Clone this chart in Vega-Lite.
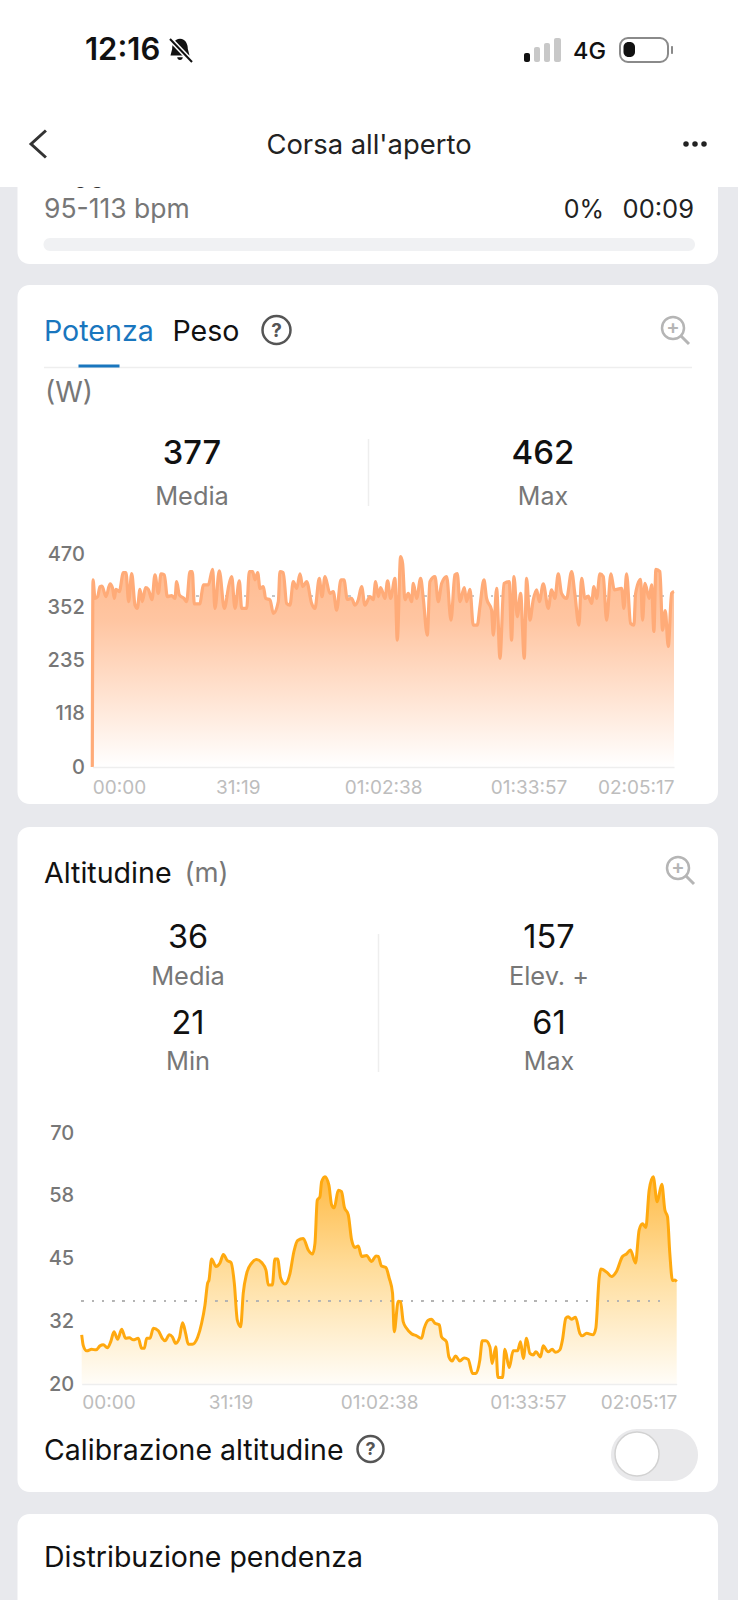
{
"$schema":"https://vega.github.io/schema/vega-lite/v6.json",
"width":738,"height":1600,"padding":0,"autosize":{"type":"none"},
"background":"#E8E9ED",
"config":{"view":{"stroke":null},"axis":{"disable":true},"text":{"font":"Inter","align":"left","baseline":"middle","color":"#111111"},"font":"Inter"},
"datasets":{
"power":[{"t":0,"w":0},{"t":9,"w":413},{"t":35,"w":372},{"t":69,"w":376},{"t":99,"w":398},{"t":125,"w":399},{"t":177,"w":376},{"t":229,"w":404},{"t":263,"w":394},{"t":285,"w":372},{"t":306,"w":392},{"t":349,"w":387},{"t":401,"w":429},{"t":435,"w":429},{"t":470,"w":365},{"t":509,"w":427},{"t":552,"w":357},{"t":582,"w":350},{"t":616,"w":392},{"t":646,"w":365},{"t":689,"w":396},{"t":724,"w":392},{"t":771,"w":369},{"t":810,"w":424},{"t":853,"w":383},{"t":888,"w":426},{"t":931,"w":424},{"t":969,"w":376},{"t":1025,"w":378},{"t":1068,"w":372},{"t":1090,"w":409},{"t":1124,"w":380},{"t":1185,"w":372},{"t":1219,"w":365},{"t":1262,"w":431},{"t":1292,"w":431},{"t":1318,"w":360},{"t":1392,"w":360},{"t":1413,"w":382},{"t":1435,"w":402},{"t":1499,"w":402},{"t":1555,"w":436},{"t":1585,"w":350},{"t":1641,"w":433},{"t":1706,"w":350},{"t":1766,"w":402},{"t":1801,"w":420},{"t":1844,"w":350},{"t":1900,"w":411},{"t":1930,"w":350},{"t":1995,"w":350},{"t":2029,"w":431},{"t":2072,"w":431},{"t":2102,"w":413},{"t":2137,"w":429},{"t":2167,"w":394},{"t":2210,"w":398},{"t":2240,"w":372},{"t":2296,"w":369},{"t":2339,"w":339},{"t":2404,"w":365},{"t":2425,"w":431},{"t":2468,"w":429},{"t":2511,"w":361},{"t":2554,"w":357},{"t":2597,"w":409},{"t":2641,"w":394},{"t":2684,"w":426},{"t":2718,"w":398},{"t":2770,"w":409},{"t":2834,"w":361},{"t":2877,"w":350},{"t":2933,"w":416},{"t":2968,"w":376},{"t":3007,"w":420},{"t":3071,"w":383},{"t":3114,"w":387},{"t":3157,"w":346},{"t":3213,"w":413},{"t":3252,"w":413},{"t":3295,"w":370},{"t":3351,"w":372},{"t":3394,"w":357},{"t":3437,"w":369},{"t":3480,"w":398},{"t":3523,"w":357},{"t":3588,"w":376},{"t":3631,"w":369},{"t":3661,"w":409},{"t":3696,"w":376},{"t":3726,"w":396},{"t":3782,"w":372},{"t":3816,"w":411},{"t":3855,"w":372},{"t":3911,"w":416},{"t":3941,"w":280},{"t":3984,"w":464},{"t":4010,"w":449},{"t":4040,"w":369},{"t":4083,"w":383},{"t":4126,"w":365},{"t":4148,"w":405},{"t":4191,"w":372},{"t":4243,"w":416},{"t":4277,"w":372},{"t":4329,"w":291},{"t":4363,"w":409},{"t":4428,"w":420},{"t":4471,"w":365},{"t":4514,"w":405},{"t":4579,"w":420},{"t":4635,"w":324},{"t":4686,"w":424},{"t":4716,"w":427},{"t":4751,"w":365},{"t":4807,"w":396},{"t":4837,"w":365},{"t":4880,"w":392},{"t":4923,"w":313},{"t":4975,"w":313},{"t":5009,"w":354},{"t":5061,"w":413},{"t":5095,"w":372},{"t":5160,"w":346},{"t":5182,"w":291},{"t":5225,"w":394},{"t":5268,"w":240},{"t":5319,"w":405},{"t":5388,"w":409},{"t":5418,"w":280},{"t":5449,"w":420},{"t":5492,"w":332},{"t":5535,"w":383},{"t":5582,"w":240},{"t":5612,"w":416},{"t":5655,"w":324},{"t":5698,"w":369},{"t":5742,"w":391},{"t":5776,"w":365},{"t":5828,"w":404},{"t":5892,"w":350},{"t":5935,"w":391},{"t":5978,"w":372},{"t":6021,"w":426},{"t":6064,"w":383},{"t":6129,"w":372},{"t":6194,"w":431},{"t":6237,"w":380},{"t":6288,"w":313},{"t":6323,"w":416},{"t":6366,"w":372},{"t":6409,"w":377},{"t":6452,"w":361},{"t":6482,"w":398},{"t":6517,"w":372},{"t":6560,"w":426},{"t":6603,"w":420},{"t":6646,"w":324},{"t":6702,"w":426},{"t":6745,"w":391},{"t":6840,"w":394},{"t":6870,"w":350},{"t":6904,"w":426},{"t":6956,"w":317},{"t":6999,"w":313},{"t":7021,"w":383},{"t":7085,"w":414},{"t":7111,"w":324},{"t":7141,"w":405},{"t":7197,"w":372},{"t":7227,"w":402},{"t":7257,"w":299},{"t":7283,"w":436},{"t":7335,"w":431},{"t":7369,"w":302},{"t":7404,"w":345},{"t":7443,"w":266},{"t":7486,"w":383},{"t":7517,"w":387}],
"altitude":[{"t":0,"m":29.8},{"t":21,"m":27.6},{"t":63,"m":26.6},{"t":126,"m":26.9},{"t":181,"m":26.8},{"t":231,"m":27.6},{"t":273,"m":27.8},{"t":324,"m":27.2},{"t":366,"m":28.4},{"t":408,"m":30.4},{"t":454,"m":28.9},{"t":505,"m":30.9},{"t":555,"m":29.1},{"t":602,"m":29.2},{"t":652,"m":28.8},{"t":715,"m":29.1},{"t":757,"m":27.1},{"t":791,"m":27.1},{"t":821,"m":29.1},{"t":863,"m":29.1},{"t":905,"m":31.1},{"t":968,"m":30.6},{"t":1018,"m":29.1},{"t":1052,"m":28.6},{"t":1107,"m":29.8},{"t":1145,"m":29.4},{"t":1187,"m":28.1},{"t":1233,"m":29.1},{"t":1275,"m":32.2},{"t":1313,"m":30.1},{"t":1347,"m":27.9},{"t":1397,"m":27.9},{"t":1465,"m":29.3},{"t":1515,"m":32.1},{"t":1557,"m":35.7},{"t":1591,"m":40.1},{"t":1608,"m":40.7},{"t":1641,"m":44.9},{"t":1696,"m":43.4},{"t":1747,"m":44.1},{"t":1789,"m":45.8},{"t":1839,"m":44.6},{"t":1886,"m":44.2},{"t":1928,"m":40.1},{"t":1966,"m":32.7},{"t":2008,"m":31.4},{"t":2041,"m":38.1},{"t":2084,"m":42},{"t":2147,"m":44.1},{"t":2210,"m":44.8},{"t":2273,"m":44.2},{"t":2328,"m":42.7},{"t":2357,"m":39.7},{"t":2408,"m":39.7},{"t":2441,"m":44.9},{"t":2475,"m":44.9},{"t":2513,"m":41.1},{"t":2568,"m":39.9},{"t":2631,"m":42},{"t":2681,"m":46.4},{"t":2728,"m":48.6},{"t":2799,"m":49},{"t":2862,"m":46.7},{"t":2917,"m":45.9},{"t":2947,"m":48},{"t":2976,"m":56.6},{"t":3010,"m":57.3},{"t":3031,"m":60.3},{"t":3073,"m":61.3},{"t":3123,"m":59.6},{"t":3157,"m":55.7},{"t":3191,"m":55.1},{"t":3241,"m":58.6},{"t":3283,"m":58.3},{"t":3317,"m":55.3},{"t":3368,"m":53.7},{"t":3410,"m":48.7},{"t":3452,"m":47.2},{"t":3494,"m":47.5},{"t":3536,"m":45.4},{"t":3599,"m":45.6},{"t":3662,"m":44.4},{"t":3717,"m":45.5},{"t":3746,"m":45.4},{"t":3788,"m":43.5},{"t":3843,"m":43.2},{"t":3885,"m":41.1},{"t":3927,"m":38.1},{"t":3948,"m":30.4},{"t":3999,"m":36.5},{"t":4028,"m":36.4},{"t":4062,"m":32.4},{"t":4104,"m":31.1},{"t":4167,"m":30},{"t":4230,"m":29.6},{"t":4294,"m":29.1},{"t":4327,"m":31.1},{"t":4378,"m":32.7},{"t":4420,"m":32.9},{"t":4462,"m":32.1},{"t":4517,"m":31.8},{"t":4546,"m":29.4},{"t":4609,"m":28.4},{"t":4639,"m":25.4},{"t":4681,"m":24.6},{"t":4723,"m":25.6},{"t":4778,"m":24.6},{"t":4832,"m":25.2},{"t":4883,"m":24.9},{"t":4938,"m":22.1},{"t":4980,"m":22.1},{"t":5030,"m":24.8},{"t":5060,"m":28.6},{"t":5106,"m":28.6},{"t":5157,"m":27.4},{"t":5186,"m":24.1},{"t":5232,"m":27.4},{"t":5258,"m":21.3},{"t":5317,"m":21.3},{"t":5346,"m":26.9},{"t":5401,"m":23.3},{"t":5451,"m":26.6},{"t":5506,"m":26.6},{"t":5544,"m":28.4},{"t":5578,"m":25.1},{"t":5620,"m":29.1},{"t":5662,"m":26.1},{"t":5704,"m":25.8},{"t":5738,"m":26.4},{"t":5797,"m":25.4},{"t":5830,"m":27.6},{"t":5893,"m":26.4},{"t":5944,"m":26.9},{"t":5986,"m":26.3},{"t":6041,"m":26.8},{"t":6074,"m":28.8},{"t":6116,"m":33.1},{"t":6146,"m":33.4},{"t":6188,"m":32.9},{"t":6239,"m":33.3},{"t":6293,"m":30.1},{"t":6323,"m":29.6},{"t":6378,"m":30.1},{"t":6462,"m":29.8},{"t":6495,"m":31.1},{"t":6537,"m":41.1},{"t":6559,"m":42.9},{"t":6639,"m":42.2},{"t":6693,"m":41.4},{"t":6756,"m":42.4},{"t":6832,"m":45.4},{"t":6883,"m":45.9},{"t":6933,"m":46.7},{"t":6996,"m":44.1},{"t":7043,"m":50.7},{"t":7085,"m":51.9},{"t":7127,"m":51.2},{"t":7169,"m":58.6},{"t":7220,"m":61.3},{"t":7270,"m":56.3},{"t":7329,"m":59.8},{"t":7367,"m":54.7},{"t":7401,"m":53.3},{"t":7430,"m":46},{"t":7464,"m":40.6},{"t":7493,"m":40.7},{"t":7517,"m":40.4}],
"ui":[{"kind":"screen"}]
},
"resolve":{"scale":{"x":"independent","y":"independent"},"axis":{"x":"independent","y":"independent"}},
"layer":[
{"data":{"name":"ui"},"layer":[
{"mark":{"type":"rect","color":"#FFFFFF","cornerRadius":12},"encoding":{"x":{"datum":17.5,"scale":{"domain":[0,738],"range":[0,738],"nice":false,"zero":false}},"x2":{"datum":718},"y":{"datum":150,"scale":{"domain":[0,1600],"range":[0,1600],"nice":false,"zero":false}},"y2":{"datum":264}}},
{"mark":{"type":"text","text":"96","fontSize":26,"baseline":"alphabetic","color":"#333333"},"encoding":{"x":{"datum":73},"y":{"datum":188}}},
{"mark":{"type":"rect","color":"#FFFFFF"},"encoding":{"x":{"datum":0},"x2":{"datum":738},"y":{"datum":0},"y2":{"datum":187}}},
{"mark":{"type":"rect","color":"#FFFFFF","cornerRadius":12},"encoding":{"x":{"datum":17.5},"x2":{"datum":718},"y":{"datum":285},"y2":{"datum":804}}},
{"mark":{"type":"rect","color":"#FFFFFF","cornerRadius":12},"encoding":{"x":{"datum":17.5},"x2":{"datum":718},"y":{"datum":827},"y2":{"datum":1492}}},
{"mark":{"type":"rect","color":"#FFFFFF","cornerRadius":12},"encoding":{"x":{"datum":17.5},"x2":{"datum":718},"y":{"datum":1514},"y2":{"datum":1640}}},
{"mark":{"type":"text","text":"12:16","fontSize":31,"fontWeight":600},"encoding":{"x":{"datum":85},"y":{"datum":51}}},
{"mark":{"type":"point","filled":true,"color":"#111111","opacity":1,"size":500,"shape":"M0 -1C-.5 -1 -.7 -.5 -.7 -.1L-.85 .5L.85 .5L.7 -.1C.7 -.5 .5 -1 0 -1ZM-.25 .65A.25 .25 0 0 0 .25 .65Z"},"encoding":{"x":{"datum":180},"y":{"datum":50}}},
{"mark":{"type":"rule","color":"#FFFFFF","strokeWidth":5},"encoding":{"x":{"datum":170},"x2":{"datum":192},"y":{"datum":39},"y2":{"datum":62}}},
{"mark":{"type":"rule","color":"#111111","strokeWidth":2},"encoding":{"x":{"datum":170},"x2":{"datum":192},"y":{"datum":39},"y2":{"datum":62}}},
{"mark":{"type":"rect","color":"#111111","cornerRadius":2},"encoding":{"x":{"datum":524},"x2":{"datum":530},"y":{"datum":53},"y2":{"datum":62}}},
{"mark":{"type":"rect","color":"#C8C8C8","cornerRadius":2},"encoding":{"x":{"datum":534},"x2":{"datum":540},"y":{"datum":47},"y2":{"datum":62}}},
{"mark":{"type":"rect","color":"#C8C8C8","cornerRadius":2},"encoding":{"x":{"datum":544},"x2":{"datum":550},"y":{"datum":43},"y2":{"datum":62}}},
{"mark":{"type":"rect","color":"#C8C8C8","cornerRadius":2},"encoding":{"x":{"datum":554},"x2":{"datum":561},"y":{"datum":38},"y2":{"datum":62}}},
{"mark":{"type":"text","text":"4G","fontSize":23.5,"fontWeight":500},"encoding":{"x":{"datum":573},"y":{"datum":52}}},
{"mark":{"type":"rect","fill":"#FFFFFF","stroke":"#8A8A8A","strokeWidth":2,"cornerRadius":8},"encoding":{"x":{"datum":620},"x2":{"datum":668},"y":{"datum":38},"y2":{"datum":62}}},
{"mark":{"type":"rect","color":"#111111","cornerRadius":5},"encoding":{"x":{"datum":623.5},"x2":{"datum":635},"y":{"datum":42},"y2":{"datum":57}}},
{"mark":{"type":"rect","color":"#8A8A8A","cornerRadius":1},"encoding":{"x":{"datum":671},"x2":{"datum":673},"y":{"datum":46},"y2":{"datum":54}}},
{"mark":{"type":"point","filled":false,"color":"#333333","opacity":1,"strokeWidth":3,"size":729,"shape":"M.55 -1L-.55 0L.55 1"},"encoding":{"x":{"datum":38.5},"y":{"datum":144}}},
{"mark":{"type":"text","text":"Corsa all'aperto","fontSize":27.4,"align":"center","color":"#222222"},"encoding":{"x":{"datum":369},"y":{"datum":146}}},
{"mark":{"type":"point","filled":true,"color":"#222222","opacity":1,"size":30,"shape":"circle"},"encoding":{"x":{"datum":686},"y":{"datum":144}}},
{"mark":{"type":"point","filled":true,"color":"#222222","opacity":1,"size":30,"shape":"circle"},"encoding":{"x":{"datum":695},"y":{"datum":144}}},
{"mark":{"type":"point","filled":true,"color":"#222222","opacity":1,"size":30,"shape":"circle"},"encoding":{"x":{"datum":704},"y":{"datum":144}}},
{"mark":{"type":"text","text":"95-113 bpm","fontSize":26.5,"color":"#777777"},"encoding":{"x":{"datum":44},"y":{"datum":210}}},
{"mark":{"type":"text","text":"0%","fontSize":25,"color":"#222222","align":"right"},"encoding":{"x":{"datum":604},"y":{"datum":210}}},
{"mark":{"type":"text","text":"00:09","fontSize":25.5,"color":"#222222","align":"right"},"encoding":{"x":{"datum":694},"y":{"datum":210}}},
{"mark":{"type":"rect","color":"#F0F1F3","cornerRadius":6.5},"encoding":{"x":{"datum":43.5},"x2":{"datum":695},"y":{"datum":238},"y2":{"datum":251}}},
{"mark":{"type":"text","text":"Potenza","fontSize":28.6,"color":"#1976BE"},"encoding":{"x":{"datum":44},"y":{"datum":332}}},
{"mark":{"type":"text","text":"Peso","fontSize":28.6},"encoding":{"x":{"datum":172.5},"y":{"datum":332}}},
{"mark":{"type":"point","filled":false,"color":"#555555","opacity":1,"strokeWidth":2.5,"size":784,"shape":"circle"},"encoding":{"x":{"datum":276.5},"y":{"datum":330}}},
{"mark":{"type":"text","text":"?","fontSize":19,"fontWeight":700,"align":"center","color":"#555555"},"encoding":{"x":{"datum":276.5},"y":{"datum":331}}},
{"mark":{"type":"point","filled":false,"color":"#B5B5B5","opacity":1,"strokeWidth":2.5,"size":484,"shape":"circle"},"encoding":{"x":{"datum":673},"y":{"datum":328}}},
{"mark":{"type":"rule","color":"#B5B5B5","strokeWidth":3},"encoding":{"x":{"datum":681},"x2":{"datum":689},"y":{"datum":336},"y2":{"datum":344}}},
{"mark":{"type":"text","text":"+","fontSize":20,"fontWeight":600,"align":"center","color":"#B5B5B5"},"encoding":{"x":{"datum":673},"y":{"datum":328}}},
{"mark":{"type":"rule","color":"#EEEEEE","strokeWidth":1.5},"encoding":{"x":{"datum":44},"x2":{"datum":692},"y":{"datum":367.5}}},
{"mark":{"type":"rect","color":"#1976BE"},"encoding":{"x":{"datum":78.5},"x2":{"datum":119.5},"y":{"datum":364.5},"y2":{"datum":367.5}}},
{"mark":{"type":"text","text":"(W)","fontSize":28,"color":"#777777"},"encoding":{"x":{"datum":45},"y":{"datum":394}}},
{"mark":{"type":"text","text":"377","fontSize":32.7,"fontWeight":500,"align":"center"},"encoding":{"x":{"datum":192},"y":{"datum":454}}},
{"mark":{"type":"text","text":"Media","fontSize":25.4,"align":"center","color":"#777777"},"encoding":{"x":{"datum":192},"y":{"datum":497}}},
{"mark":{"type":"text","text":"462","fontSize":33,"fontWeight":500,"align":"center"},"encoding":{"x":{"datum":543},"y":{"datum":454}}},
{"mark":{"type":"text","text":"Max","fontSize":25,"align":"center","color":"#777777"},"encoding":{"x":{"datum":543},"y":{"datum":497}}},
{"mark":{"type":"rule","color":"#EEEEEE","strokeWidth":1.5},"encoding":{"x":{"datum":368.5},"y":{"datum":439},"y2":{"datum":506}}},
{"mark":{"type":"text","text":"Altitudine","fontSize":28.6},"encoding":{"x":{"datum":44},"y":{"datum":874}}},
{"mark":{"type":"text","text":"(m)","fontSize":27.5,"color":"#777777"},"encoding":{"x":{"datum":184.5},"y":{"datum":874}}},
{"mark":{"type":"point","filled":false,"color":"#B5B5B5","opacity":1,"strokeWidth":2.5,"size":484,"shape":"circle"},"encoding":{"x":{"datum":678},"y":{"datum":868}}},
{"mark":{"type":"rule","color":"#B5B5B5","strokeWidth":3},"encoding":{"x":{"datum":686},"x2":{"datum":694},"y":{"datum":876},"y2":{"datum":884}}},
{"mark":{"type":"text","text":"+","fontSize":20,"fontWeight":600,"align":"center","color":"#B5B5B5"},"encoding":{"x":{"datum":678},"y":{"datum":868}}},
{"mark":{"type":"text","text":"36","fontSize":32.5,"align":"center"},"encoding":{"x":{"datum":188},"y":{"datum":938}}},
{"mark":{"type":"text","text":"Media","fontSize":25.4,"align":"center","color":"#777777"},"encoding":{"x":{"datum":188},"y":{"datum":977}}},
{"mark":{"type":"text","text":"21","fontSize":32.5,"align":"center"},"encoding":{"x":{"datum":188},"y":{"datum":1024}}},
{"mark":{"type":"text","text":"Min","fontSize":25.4,"align":"center","color":"#777777"},"encoding":{"x":{"datum":188},"y":{"datum":1062}}},
{"mark":{"type":"text","text":"157","fontSize":32.5,"align":"center"},"encoding":{"x":{"datum":549},"y":{"datum":938}}},
{"mark":{"type":"text","text":"Elev. +","fontSize":25.4,"align":"center","color":"#777777"},"encoding":{"x":{"datum":549},"y":{"datum":977}}},
{"mark":{"type":"text","text":"61","fontSize":32.5,"align":"center"},"encoding":{"x":{"datum":549},"y":{"datum":1024}}},
{"mark":{"type":"text","text":"Max","fontSize":25,"align":"center","color":"#777777"},"encoding":{"x":{"datum":549},"y":{"datum":1062}}},
{"mark":{"type":"rule","color":"#EEEEEE","strokeWidth":1.5},"encoding":{"x":{"datum":378.5},"y":{"datum":934},"y2":{"datum":1072}}},
{"mark":{"type":"text","text":"Calibrazione altitudine","fontSize":28.5},"encoding":{"x":{"datum":44},"y":{"datum":1451}}},
{"mark":{"type":"point","filled":false,"color":"#555555","opacity":1,"strokeWidth":2.5,"size":676,"shape":"circle"},"encoding":{"x":{"datum":370.5},"y":{"datum":1449}}},
{"mark":{"type":"text","text":"?","fontSize":18,"fontWeight":700,"align":"center","color":"#555555"},"encoding":{"x":{"datum":370.5},"y":{"datum":1450}}},
{"mark":{"type":"rect","color":"#E9E9EB","cornerRadius":26},"encoding":{"x":{"datum":611},"x2":{"datum":698},"y":{"datum":1429},"y2":{"datum":1481}}},
{"mark":{"type":"point","filled":true,"fill":"#FFFFFF","stroke":"#D2D2D2","opacity":1,"strokeWidth":1.5,"size":1936,"shape":"circle"},"encoding":{"x":{"datum":637},"y":{"datum":1454}}},
{"mark":{"type":"text","text":"Distribuzione pendenza","fontSize":28.5},"encoding":{"x":{"datum":44},"y":{"datum":1558}}}
]},
{"data":{"name":"power"},
"encoding":{
"x":{"field":"t","type":"quantitative","scale":{"domain":[0,7517],"range":[92.3,674],"nice":false,"zero":false},"axis":{"disable":false,"orient":"bottom","offset":-833,"zindex":1,"title":null,"grid":false,"ticks":false,"domainColor":"#EEEEEE","domainWidth":1.5,"labelColor":"#BDBDBD","labelFontSize":19,"labelPadding":11,"labelFlush":true,"labelOverlap":false,"labelBound":false,"values":[0,1879,3758,5637,7517],"labelExpr":"datum.value==0?'00:00':datum.value==1879?'31:19':datum.value==3758?'01:02:38':datum.value==5637?'01:33:57':'02:05:17'"}},
"y":{"field":"w","type":"quantitative","scale":{"domain":[0,470],"range":[767,554],"nice":false,"zero":false},"axis":{"disable":false,"orient":"left","offset":-92.3,"zindex":1,"title":null,"grid":false,"ticks":false,"domain":false,"labelColor":"#777777","labelFontSize":20,"labelFontWeight":500,"labelPadding":8,"labelOverlap":false,"labelBound":false,"labelFlush":false,"values":[0,117.51,235,352.49,470],"format":".0f"}}
},
"layer":[
{"mark":{"type":"rule","color":"#C6C6C6","strokeWidth":1.2,"strokeDash":[1.5,8]},"encoding":{"x":{"datum":0},"x2":{"datum":7517},"y":{"datum":377}}},
{"mark":{"type":"area","interpolate":"monotone","color":{"gradient":"linear","x1":0,"y1":0,"x2":0,"y2":1,"stops":[{"offset":0,"color":"#FFB98D"},{"offset":0.3,"color":"#FFC5A1"},{"offset":1,"color":"#FFFFFF"}]}},"encoding":{"y2":{"datum":0}}},
{"mark":{"type":"line","interpolate":"monotone","color":"#FFAB78","strokeWidth":3.2,"strokeJoin":"round"}}
]},
{"data":{"name":"altitude"},
"encoding":{
"x":{"field":"t","type":"quantitative","scale":{"domain":[0,7517],"range":[81.7,676.7],"nice":false,"zero":false},"axis":{"disable":false,"orient":"bottom","offset":-216,"zindex":1,"title":null,"grid":false,"ticks":false,"domainColor":"#EEEEEE","domainWidth":1.5,"labelColor":"#BDBDBD","labelFontSize":19,"labelPadding":9,"labelFlush":true,"labelOverlap":false,"labelBound":false,"values":[0,1879,3758,5637,7517],"labelExpr":"datum.value==0?'00:00':datum.value==1879?'31:19':datum.value==3758?'01:02:38':datum.value==5637?'01:33:57':'02:05:17'"}},
"y":{"field":"m","type":"quantitative","scale":{"domain":[20,70],"range":[1384,1133],"nice":false,"zero":false},"axis":{"disable":false,"orient":"left","offset":-81.7,"zindex":1,"title":null,"grid":false,"ticks":false,"domain":false,"labelColor":"#777777","labelFontSize":20,"labelFontWeight":500,"labelPadding":8,"labelOverlap":false,"labelBound":false,"labelFlush":false,"values":[20,32.49,45,57.51,70],"format":".0f"}}
},
"layer":[
{"mark":{"type":"area","interpolate":"monotone","color":{"gradient":"linear","x1":0,"y1":0,"x2":0,"y2":1,"stops":[{"offset":0,"color":"#FFBB47"},{"offset":0.45,"color":"#FFDD9C"},{"offset":1,"color":"#FFFDF8"}]}},"encoding":{"y2":{"datum":20}}},
{"mark":{"type":"rule","color":"#B4B4B4","strokeWidth":1.5,"strokeDash":[1.5,8.8]},"encoding":{"x":{"datum":0},"x2":{"datum":7400},"y":{"datum":36.6}}},
{"mark":{"type":"line","interpolate":"monotone","color":"#FFA90F","strokeWidth":3,"strokeJoin":"round"}}
]}
]
}
